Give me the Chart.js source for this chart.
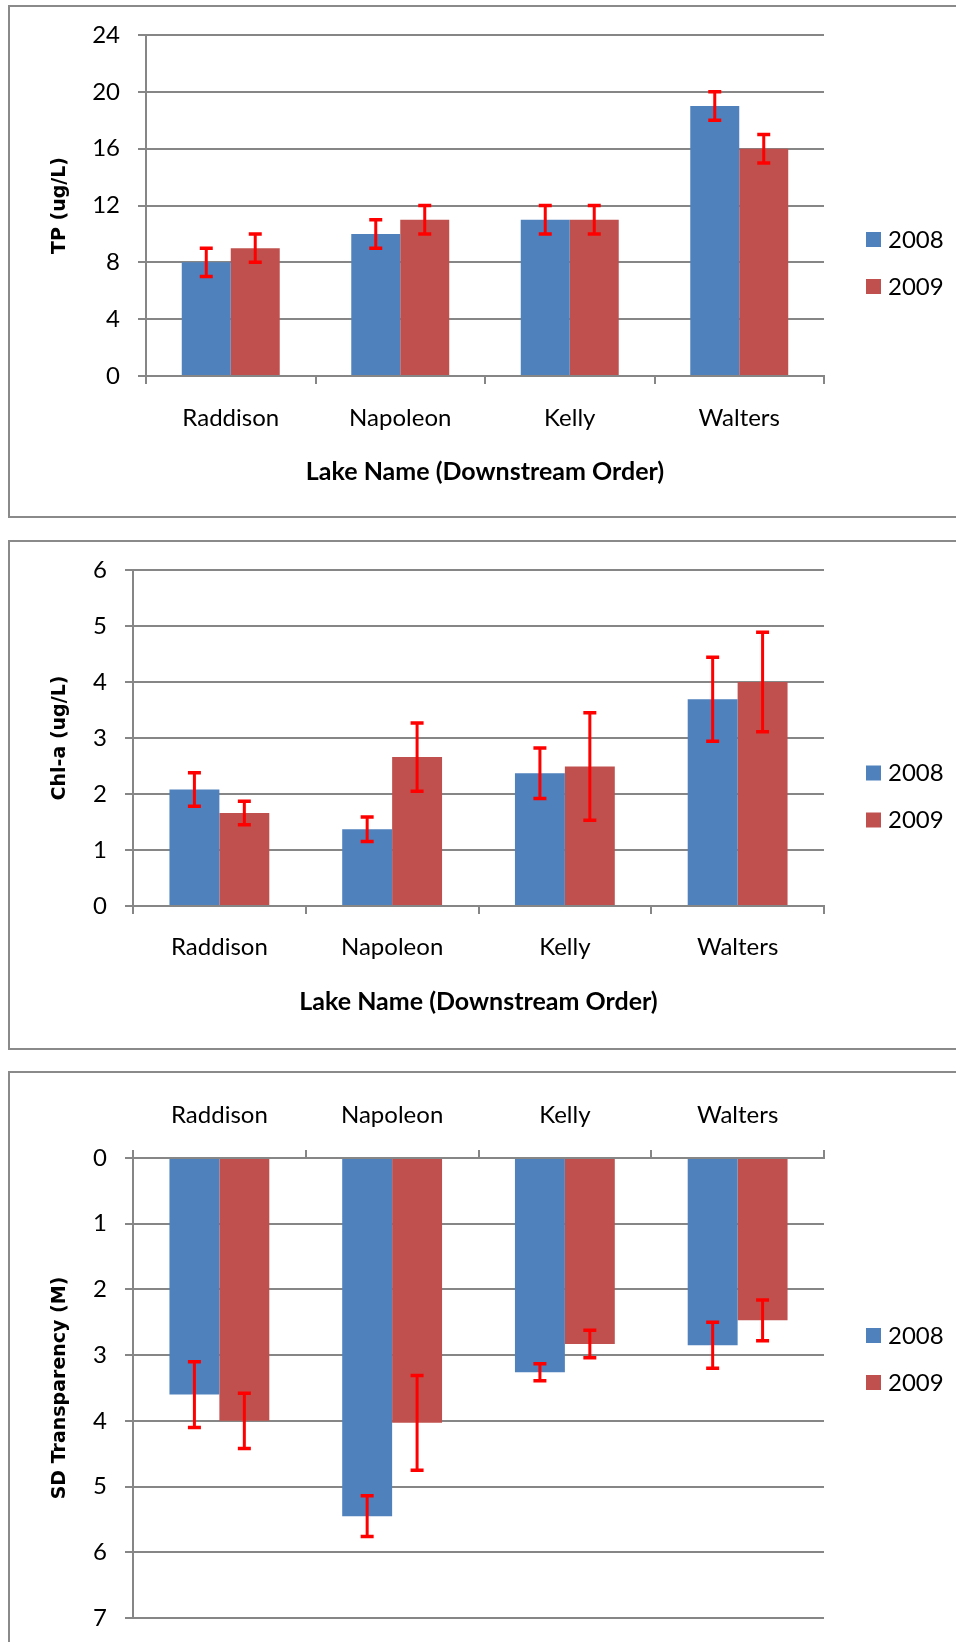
<!DOCTYPE html>
<html>
<head>
<meta charset="utf-8">
<title>Lake water quality 2008-2009</title>
<script src="https://cdn.jsdelivr.net/npm/chart.js@4.4.1/dist/chart.umd.min.js"></script>
<style>
  html, body { margin: 0; padding: 0; background: #fff; overflow: hidden; }
  body { width: 956px; height: 1642px; position: relative; }
  .panel { position: absolute; left: 8px; width: 946px; border: 2px solid #8a8a8a; background: #fff; }
  .panel canvas { display: block; }
  #tpPanel  { top: 5px;    height: 509px; }
  #chlPanel { top: 540px;  height: 506px; }
  #sdPanel  { top: 1071px; height: 569px; }
</style>
</head>
<body>
<div class="panel" id="tpPanel"><canvas id="tpChart" width="946" height="509"></canvas></div>
<div class="panel" id="chlPanel"><canvas id="chlChart" width="946" height="506"></canvas></div>
<div class="panel" id="sdPanel"><canvas id="sdChart" width="946" height="569"></canvas></div>

<script>
const lakes = ['Raddison', 'Napoleon', 'Kelly', 'Walters'];
const years = ['2008', '2009'];

// total phosphorus (ug/L), mean and +/- error
const tp2008 = [8, 10, 11, 19];
const tp2009 = [9, 11, 11, 16];
const tpErr2008 = [1, 1, 1, 1];
const tpErr2009 = [1, 1, 1, 1];
const tpTicks = [0, 4, 8, 12, 16, 20, 24];

// chlorophyll-a (ug/L)
const chl2008 = [2.08, 1.37, 2.37, 3.69];
const chl2009 = [1.66, 2.66, 2.49, 4.0];
const chlErr2008 = [0.30, 0.22, 0.45, 0.75];
const chlErr2009 = [0.21, 0.61, 0.96, 0.89];
const chlTicks = [0, 1, 2, 3, 4, 5, 6];

// secchi depth (M), plotted downward from the surface
const sd2008 = [3.6, 5.45, 3.26, 2.85];
const sd2009 = [4.0, 4.03, 2.83, 2.47];
const sdErr2008 = [0.5, 0.31, 0.13, 0.35];
const sdErr2009 = [0.42, 0.72, 0.21, 0.31];
const sdTicks = [0, 1, 2, 3, 4, 5, 6, 7];

const BLUE = '#4f81bd';
const RED  = '#c0504d';
const GRID = '#868686';
const LABEL_FONT = { family: 'Lato', size: 24 };

Chart.defaults.font.family = 'Lato';
Chart.defaults.color = '#000';

/* =============================
   PLUGINS
============================= */
const errorBars = {
    id: 'errorBars',
    afterDatasetsDraw(chart) {
        const { ctx } = chart;
        const y = chart.scales.y;
        ctx.save();
        ctx.strokeStyle = '#ff0000';
        chart.data.datasets.forEach((ds, i) => {
            chart.getDatasetMeta(i).data.forEach((bar, j) => {
                const v = ds.data[j], e = ds.errors[j];
                const hi = y.getPixelForValue(v + e);
                const lo = y.getPixelForValue(v - e);
                // stem
                ctx.lineWidth = 3;
                ctx.beginPath();
                ctx.moveTo(bar.x, hi);
                ctx.lineTo(bar.x, lo);
                ctx.stroke();
                // caps
                ctx.lineWidth = 3.5;
                ctx.beginPath();
                ctx.moveTo(bar.x - 6.5, hi); ctx.lineTo(bar.x + 6.5, hi);
                ctx.moveTo(bar.x - 6.5, lo); ctx.lineTo(bar.x + 6.5, lo);
                ctx.stroke();
            });
        });
        ctx.restore();
    }
};

const sideLegend = {
    id: 'sideLegend',
    afterDraw(chart) {
        const { ctx, chartArea } = chart;
        const x = chartArea.right + 42;
        const mid = chart.height / 2 + 1;
        ctx.save();
        ctx.font = '24px Lato';
        ctx.textBaseline = 'middle';
        chart.data.datasets.forEach((ds, i) => {
            const cy = mid + (i - 0.5) * 47;
            ctx.fillStyle = ds.backgroundColor;
            ctx.fillRect(x, cy - 7, 15, 15);
            ctx.fillStyle = '#000';
            ctx.fillText(ds.label, x + 22, cy + 1);
        });
        ctx.restore();
    }
};

/* =============================
   CHART HELPER
============================= */
function drawPanel(id, cfg) {
    const ticks = cfg.ticks;
    return new Chart(document.getElementById(id), {
        type: 'bar',
        data: {
            labels: lakes,
            datasets: [
                { label: years[0], data: cfg.values[0], errors: cfg.errors[0], backgroundColor: BLUE },
                { label: years[1], data: cfg.values[1], errors: cfg.errors[1], backgroundColor: RED }
            ]
        },
        options: {
            responsive: false,
            animation: false,
            categoryPercentage: 0.578,
            barPercentage: 1,
            layout: { padding: cfg.padding },
            plugins: { legend: { display: false }, tooltip: { enabled: false } },
            scales: {
                x: {
                    position: cfg.flip ? 'top' : 'bottom',
                    grid: { drawOnChartArea: false, color: GRID, lineWidth: 2, tickLength: 8 },
                    border: { color: GRID, width: 2 },
                    ticks: { font: LABEL_FONT, padding: cfg.labelPad, maxRotation: 0 },
                    title: cfg.xTitle ? {
                        display: true,
                        text: cfg.xTitle,
                        font: { family: 'Lato', size: 25, weight: 'bold' },
                        padding: { top: 0, bottom: cfg.xTitlePad }
                    } : { display: false },
                    afterFit: s => { s.height = cfg.xHeight; }
                },
                y: {
                    reverse: !!cfg.flip,
                    min: ticks[0],
                    max: ticks[ticks.length - 1],
                    ticks: { stepSize: ticks[1] - ticks[0], font: LABEL_FONT, padding: 18 },
                    grid: { color: GRID, lineWidth: 2, tickLength: 8 },
                    border: { color: GRID, width: 2 },
                    title: {
                        display: true,
                        text: cfg.yTitle,
                        font: { family: 'DejaVu Sans', size: 19, weight: 'bold' },
                        padding: { top: 39, bottom: 0 }
                    },
                    // fixed axis width; layout padding alone decides the plot's top and bottom
                    afterFit: s => {
                        s.width = cfg.yWidth;
                        s.paddingTop = 0;
                        s.paddingBottom = 0;
                    }
                }
            }
        },
        plugins: [errorBars, sideLegend]
    });
}

function drawAll() {
    drawPanel('tpChart', {
        values: [tp2008, tp2009], errors: [tpErr2008, tpErr2009], ticks: tpTicks,
        yTitle: 'TP (ug/L)', xTitle: 'Lake Name (Downstream Order)',
        yWidth: 136, xHeight: 140, labelPad: 20, xTitlePad: 29.5,
        padding: { top: 28, right: 132, bottom: 0, left: 0 }
    });
    drawPanel('chlChart', {
        values: [chl2008, chl2009], errors: [chlErr2008, chlErr2009], ticks: chlTicks,
        yTitle: 'Chl-a (ug/L)', xTitle: 'Lake Name (Downstream Order)',
        yWidth: 123, xHeight: 142, labelPad: 19, xTitlePad: 31.5,
        padding: { top: 28, right: 132, bottom: 0, left: 0 }
    });
    drawPanel('sdChart', {
        values: [sd2008, sd2009], errors: [sdErr2008, sdErr2009], ticks: sdTicks,
        yTitle: 'SD Transparency (M)', flip: true,
        yWidth: 123, xHeight: 85, labelPad: 20,
        padding: { top: 0, right: 132, bottom: 24, left: 0 }
    });
}

document.addEventListener('DOMContentLoaded', () => {
    Promise.all([
        document.fonts.load('24px Lato'),
        document.fonts.load('bold 25px Lato'),
        document.fonts.load('bold 19px "DejaVu Sans"')
    ]).then(drawAll, drawAll);
});
</script>
</body>
</html>
